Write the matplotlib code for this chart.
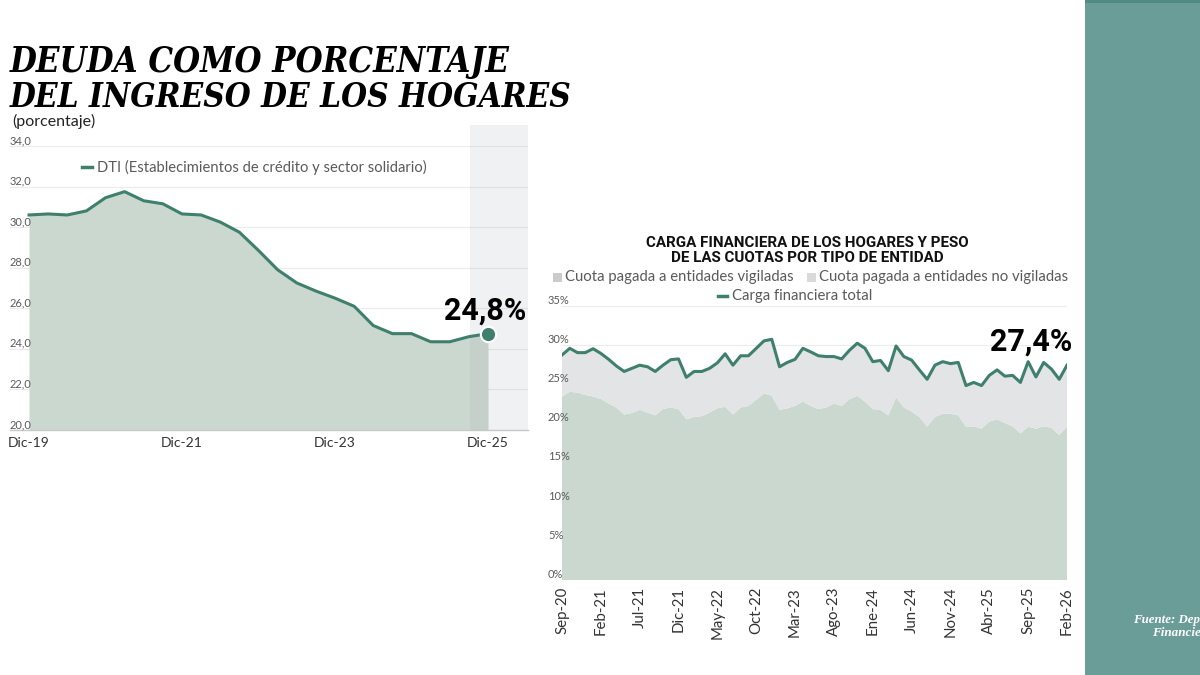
import matplotlib
matplotlib.use("Agg")
import matplotlib.pyplot as plt
from matplotlib.patches import Rectangle
from matplotlib.lines import Line2D
from matplotlib import transforms

# ---------------- data ----------------
# Left chart: DTI, quarterly Dic-19 .. Dic-25
dti_values = [30.6, 30.65, 30.6, 30.8, 31.45, 31.75, 31.3, 31.15, 30.65, 30.6,
              30.25, 29.75, 28.85, 27.9, 27.25, 26.85, 26.5, 26.1, 25.15, 24.75,
              24.75, 24.35, 24.35, 24.6, 24.75]
left_tick_idx = [0, 8, 16, 24]
left_tick_labels = ["Dic-19", "Dic-21", "Dic-23", "Dic-25"]
left_yticks = [20, 22, 24, 26, 28, 30, 32, 34]
left_last_label = "24,8%"

# Right chart: monthly Sep-20 .. Feb-26
month_abbr = ["Ene", "Feb", "Mar", "Abr", "May", "Jun", "Jul", "Ago", "Sep", "Oct", "Nov", "Dic"]
carga_total = [28.7, 29.55, 29.0, 29.0, 29.5, 28.9, 28.15, 27.3, 26.6, 27.0,
               27.4, 27.2, 26.6, 27.4, 28.1, 28.2, 25.85, 26.6, 26.6, 27.0,
               27.7, 28.85, 27.4, 28.6, 28.6, 29.55, 30.5, 30.7, 27.2, 27.75,
               28.15, 29.55, 29.1, 28.6, 28.5, 28.5, 28.2, 29.3, 30.2, 29.55,
               27.85, 28.0, 26.7, 29.85, 28.5, 28.05, 26.8, 25.6, 27.4, 27.85,
               27.6, 27.75, 24.8, 25.2, 24.8, 26.1, 26.8, 26.0, 26.1, 25.2,
               27.85, 25.9, 27.75, 26.9, 25.6, 27.4]
cuota_vigiladas = [23.4, 24.0, 23.9, 23.6, 23.4, 23.1, 22.5, 22.0, 21.1, 21.3,
                   21.7, 21.35, 21.0, 21.8, 22.0, 21.8, 20.5, 20.8, 20.9, 21.35,
                   21.9, 22.1, 21.1, 22.0, 22.2, 23.0, 23.8, 23.5, 21.7, 21.9,
                   22.2, 22.75, 22.2, 21.8, 22.0, 22.5, 22.2, 23.05, 23.5, 22.75,
                   21.8, 21.7, 21.0, 23.3, 22.0, 21.5, 20.8, 19.55, 20.8, 21.2,
                   21.2, 21.0, 19.55, 19.6, 19.3, 20.2, 20.5, 20.0, 19.6, 18.7,
                   19.55, 19.3, 19.6, 19.4, 18.5, 19.55]
right_yticks = [0, 5, 10, 15, 20, 25, 30, 35]
right_last_label = "27,4%"
start_year, start_month = 2020, 9   # Sep-20

months = []
y, m = start_year, start_month
for _ in range(len(carga_total)):
    months.append(f"{month_abbr[m-1]}-{y % 100:02d}")
    m += 1
    if m > 12:
        m = 1
        y += 1
cuota_no_vigiladas = [t - v for t, v in zip(carga_total, cuota_vigiladas)]

# ---------------- style ----------------
TEAL = "#3e806d"
GREEN_FILL = "#cbd8cf"
GRAY_FILL = "#e3e4e6"
TXT = "#5a5a5a"
W, H = 1200, 675
SERIF = ["DejaVu Serif", "Liberation Serif"]

plt.rcParams["font.family"] = ["Lato", "DejaVu Sans"]
fig = plt.figure(figsize=(12, 6.75), dpi=100)
fig.patch.set_facecolor("white")

def fx(px):
    return px / W

def fy(py):
    return 1 - py / H

# right teal panel
fig.patches.append(Rectangle((fx(1085), 0), 1 - fx(1085), 1, transform=fig.transFigure,
                             facecolor="#6a9d97", edgecolor="none", zorder=0))
fig.patches.append(Rectangle((fx(1085), fy(3)), 1 - fx(1085), 3 / H, transform=fig.transFigure,
                             facecolor="#4f8b82", edgecolor="none", zorder=0))
src1 = fig.text(fx(1133), fy(620), "Fuente: Dep", color="white", fontsize=9.5,
                family=["Liberation Serif", "DejaVu Serif"], weight="bold", style="italic",
                va="center", ha="left")
src2 = fig.text(fx(1152), fy(633), "Financie", color="white", fontsize=9.5,
                family=["Liberation Serif", "DejaVu Serif"], weight="bold", style="italic",
                va="center", ha="left")

# ---------------- titles ----------------
t1 = fig.text(fx(10), fy(72), "DEUDA COMO PORCENTAJE", fontsize=30,
              family=SERIF, weight="bold", style="italic", fontstretch="condensed",
              color="black", ha="left", va="baseline")
t2 = fig.text(fx(10), fy(107), "DEL INGRESO DE LOS HOGARES", fontsize=30,
              family=SERIF, weight="bold", style="italic", fontstretch="condensed",
              color="black", ha="left", va="baseline")
fig.text(fx(12), fy(121), "(porcentaje)", fontsize=11.5, color="#222222", ha="left", va="center")

renderer = fig.canvas.get_renderer()
for t, target in [(t1, 500), (t2, 560), (src1, 67), (src2, 49)]:
    bb = t.get_window_extent(renderer)
    t.set_fontsize(t.get_fontsize() * target / bb.width)

# ---------------- left chart ----------------
L_left, L_right, L_top, L_bot = 10, 528, 146, 430
axL = fig.add_axes([fx(L_left), fy(L_bot), fx(L_right - L_left), (L_bot - L_top) / H])
axL.set_facecolor("none")
x_idx = list(range(len(dti_values)))
px_per_q = (488 - 29) / (len(dti_values) - 1)
axL.set_xlim(-(29 - L_left) / px_per_q, (len(dti_values) - 1) + (L_right - 488) / px_per_q)
axL.set_ylim(left_yticks[0], left_yticks[-1])
axL.fill_between(x_idx, left_yticks[0], dti_values, color=GREEN_FILL, lw=0, zorder=1)
axL.plot(x_idx, dti_values, color=TEAL, lw=2.2, zorder=3, solid_joinstyle="round")
axL.plot([x_idx[-1]], [dti_values[-1]], "o", ms=11, color=TEAL, mec="white", mew=1.5, zorder=4)
axL.axvspan(len(dti_values) - 1 - 0.95, axL.get_xlim()[1], ymin=0, ymax=(L_bot - 125) / (L_bot - L_top),
            color="#9ea3a8", alpha=0.15, lw=0, zorder=2, clip_on=False)
for v in left_yticks:
    axL.axhline(v, color="#ececec", lw=0.8, zorder=0)
for s in ["top", "right", "left"]:
    axL.spines[s].set_visible(False)
axL.spines["bottom"].set_color("#c8c8c8")
axL.spines["bottom"].set_linewidth(1.0)
axL.set_yticks([])
axL.set_xticks(left_tick_idx, left_tick_labels)
axL.tick_params(axis="x", length=0, pad=5, labelsize=10, labelcolor="#333333")
tL = transforms.blended_transform_factory(axL.transAxes, axL.transData)
for v in left_yticks:
    axL.text(0, v, f"{v:.1f}".replace(".", ","), transform=tL, ha="left", va="bottom",
             fontsize=8, color=TXT)
axL.annotate(left_last_label, (x_idx[-1], dti_values[-1]), xytext=(-2, 6), textcoords="offset points",
             ha="center", va="bottom", fontsize=22, weight="bold", color="black",
             family=["Roboto", "DejaVu Sans"])
# left legend
fig.add_artist(Line2D([fx(82), fx(92)], [fy(167), fy(167)], color=TEAL, lw=2.5, transform=fig.transFigure))
fig.text(fx(97), fy(167), "DTI (Establecimientos de crédito y sector solidario)", fontsize=10.6,
         color=TXT, ha="left", va="center")

# ---------------- right chart ----------------
R_left, R_right, R_top, R_bot = 562, 1067, 305.6, 580
axR = fig.add_axes([fx(R_left), fy(R_bot), fx(R_right - R_left), (R_bot - R_top) / H])
axR.set_facecolor("none")
mx = list(range(len(carga_total)))
axR.stackplot(mx, cuota_vigiladas, cuota_no_vigiladas, colors=[GREEN_FILL, GRAY_FILL], lw=0, zorder=1)
axR.plot(mx, carga_total, color=TEAL, lw=2.2, zorder=3, solid_joinstyle="round")
axR.set_xlim(0, len(carga_total) - 1)
axR.set_ylim(right_yticks[0], right_yticks[-1])
for v in right_yticks:
    axR.axhline(v, color="#ececec", lw=0.8, zorder=0.5)
for s in axR.spines.values():
    s.set_visible(False)
axR.set_yticks([])
tick_pos = list(range(0, len(months), 5))
axR.set_xticks(tick_pos, [months[i] for i in tick_pos], rotation=90)
axR.tick_params(axis="x", length=0, pad=5, labelsize=10.8, labelcolor="#333333")
tR = transforms.blended_transform_factory(fig.transFigure, axR.transData)
for v in right_yticks:
    axR.text(fx(548), v, f"{v}%", transform=tR, ha="left", va="bottom", fontsize=8, color=TXT)
axR.annotate(right_last_label, (mx[-1], carga_total[-1]), xytext=(4, 6), textcoords="offset points",
             ha="right", va="bottom", fontsize=22, weight="bold", color="black",
             family=["Roboto", "DejaVu Sans"])

fig.text(fx(807), fy(243), "CARGA FINANCIERA DE LOS HOGARES Y PESO", fontsize=10.9, weight="bold",
         family=["Roboto", "DejaVu Sans"], color="#111111", ha="center", va="center")
fig.text(fx(807), fy(258), "DE LAS CUOTAS POR TIPO DE ENTIDAD", fontsize=10.9, weight="bold",
         family=["Roboto", "DejaVu Sans"], color="#111111", ha="center", va="center")
# right legend
fig.patches.append(Rectangle((fx(553), fy(282)), 9 / W, 9 / H, transform=fig.transFigure,
                             facecolor="#c9cbcc", edgecolor="none"))
fig.text(fx(565), fy(277), "Cuota pagada a entidades vigiladas", fontsize=10.7, color=TXT,
         ha="left", va="center")
fig.patches.append(Rectangle((fx(807), fy(282)), 9 / W, 9 / H, transform=fig.transFigure,
                             facecolor="#d9dadb", edgecolor="none"))
fig.text(fx(819), fy(277), "Cuota pagada a entidades no vigiladas", fontsize=10.7, color=TXT,
         ha="left", va="center")
fig.add_artist(Line2D([fx(718), fx(727)], [fy(296), fy(296)], color=TEAL, lw=2.5, transform=fig.transFigure))
fig.text(fx(732), fy(296), "Carga financiera total", fontsize=10.7, color=TXT, ha="left", va="center")

fig.savefig("out.png", dpi=100, facecolor="white")
